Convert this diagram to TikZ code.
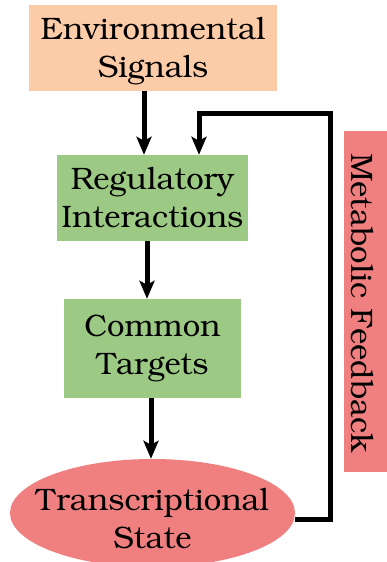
\documentclass[tikz,border=0pt]{standalone}
\usepackage[T1]{fontenc}
\usepackage{bookman}
\usetikzlibrary{arrows.meta,shapes.geometric}
\definecolor{peach}{RGB}{252,204,168}
\definecolor{leaf}{RGB}{156,201,131}
\definecolor{coral}{RGB}{240,128,128}
\tikzset{
  lbl/.style={font=\fontsize{31}{38}\selectfont, align=center, inner sep=0pt},
  box/.style={lbl, rectangle, draw=none},
  arr/.style={line width=5pt, line join=miter, -{Stealth[length=18pt,width=15pt,inset=4pt]}},
}
\begin{document}
\begin{tikzpicture}[x=1pt,y=-1pt]
\useasboundingbox (0,0) rectangle (386,562);
\node[box, fill=peach, minimum width=248pt, minimum height=86pt] (env) at (153,48) {};
\node[lbl] (envt) at (153,51) {Environmental\\Signals};
\node[box, fill=leaf, minimum width=191pt, minimum height=86pt] (reg) at (152.5,198) {Regulatory\\Interactions};
\node[box, fill=leaf, minimum width=177pt, minimum height=99pt] (com) at (152.5,348.5) {Common\\Targets};
\node[ellipse, fill=coral, inner sep=0pt, minimum width=285pt, minimum height=108pt] (ts) at (152.5,513) {};
\node[lbl] (tst) at (152.5,519) {Transcriptional\\State};
\node[box, fill=coral, minimum width=46pt, minimum height=341pt] (mf) at (367,301.5) {};
\node[lbl, rotate=-90] (mft) at (362,303) {Metabolic Feedback};
\coordinate (c1) at (330,113);
\coordinate (c2) at (199,113);
\draw[arr] ([xshift=-9pt]env.south) -- ([xshift=-9pt]env.south |- reg.north);
\draw[arr] ([xshift=-5.5pt]reg.south) -- ([xshift=-5.5pt]reg.south |- com.north);
\draw[arr] ([xshift=-1.5pt]com.south) -- ([xshift=-1.5pt]com.south |- ts.north);
\draw[arr] ([yshift=-6pt]ts.east) -| (c1) -| (c2 |- reg.north);
\end{tikzpicture}
\end{document}
